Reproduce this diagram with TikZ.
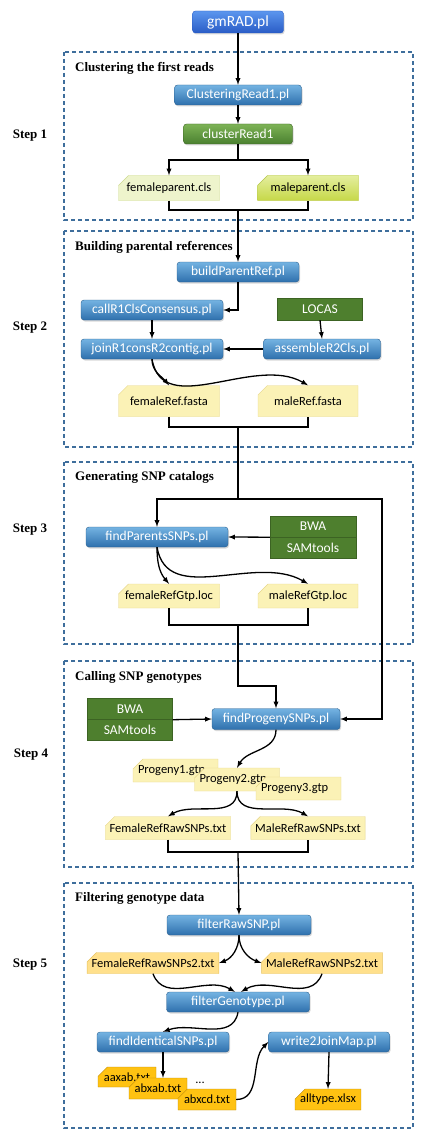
\documentclass[tikz,border=0pt]{standalone}
\usepackage{fontspec}
\setmainfont{Liberation Serif}
\newfontfamily\carlito{Carlito}
\usetikzlibrary{shapes.misc,shadows}

\definecolor{progtop}{HTML}{74B3E2}
\definecolor{progbot}{HTML}{2E70AD}
\definecolor{progline}{HTML}{2A5F8E}
\definecolor{maintop}{HTML}{5B96EE}
\definecolor{mainbot}{HTML}{2A5CC6}
\definecolor{greentop}{HTML}{7DB356}
\definecolor{greenbot}{HTML}{4A802F}
\definecolor{toolfill}{HTML}{4E7F2E}
\definecolor{toolline}{HTML}{3C6323}
\definecolor{framecol}{HTML}{3E6E9C}
\definecolor{palegreen}{HTML}{EEF4CC}
\definecolor{palegreenline}{HTML}{CCDA8E}
\definecolor{limetop}{HTML}{E4EE9E}
\definecolor{limebot}{HTML}{C6D848}
\definecolor{limeline}{HTML}{B3C64C}
\definecolor{paleyellow}{HTML}{FBF2B6}
\definecolor{paleyellowline}{HTML}{E6D68A}
\definecolor{warmyellow}{HTML}{FFE08C}
\definecolor{warmyellowline}{HTML}{E6C25E}
\definecolor{orangefile}{HTML}{FFC212}
\definecolor{orangeline}{HTML}{B8870A}

\begin{document}
\begin{tikzpicture}[x=1pt,y=1pt,>=latex]
	\tikzstyle{prog} = [rectangle,rounded corners=3pt,draw=progline,top color=progtop,bottom color=progbot,text=white,font=\carlito\fontsize{13.5}{16}\selectfont,minimum height=20pt,inner sep=0pt,drop shadow={opacity=0.3,shadow xshift=1pt,shadow yshift=-1.5pt}]
	\tikzstyle{tool} = [rectangle,draw=toolline,fill=toolfill,text=white,font=\carlito\fontsize{13.5}{16}\selectfont,minimum width=86pt,minimum height=21pt,inner sep=0pt]
	\tikzstyle{file} = [chamfered rectangle,chamfered rectangle corners=north west,chamfered rectangle xsep=5pt,chamfered rectangle ysep=5pt,draw=paleyellowline,fill=paleyellow,font=\carlito\fontsize{12.5}{15}\selectfont,inner sep=0pt,minimum height=23pt]
	\tikzstyle{frame} = [draw=framecol,line width=1.2pt,dash pattern=on 4pt off 3pt]
	\tikzstyle{title} = [font=\bfseries\fontsize{13}{15}\selectfont,anchor=west,inner sep=0pt]
	\tikzstyle{link} = [->,line width=1.3pt]
	
	\useasboundingbox (0,0) rectangle (432,-1142);
	
	\draw[frame] (64,-52) rectangle (413,-220);
	\draw[frame] (64,-231) rectangle (413,-447);
	\draw[frame] (64,-462) rectangle (413,-644);
	\draw[frame] (64,-661) rectangle (413,-867);
	\draw[frame] (64,-883) rectangle (413,-1128);
	
	\node[title] (h1) at (75,-68) {Clustering the first reads};
	\node[title] (h2) at (75,-247) {Building parental references};
	\node[title] (h3) at (75,-477) {Generating SNP catalogs};
	\node[title] (h4) at (75,-677) {Calling SNP genotypes};
	\node[title] (h5) at (75,-898) {Filtering genotype data};
	
	\node[title,anchor=center] (st1) at (30,-136) {Step 1};
	\node[title,anchor=center] (st2) at (30,-328) {Step 2};
	\node[title,anchor=center] (st3) at (30,-530) {Step 3};
	\node[title,anchor=center] (st4) at (31,-755) {Step 4};
	\node[title,anchor=center] (st5) at (30,-965) {Step 5};
	
	\node[prog,draw=mainbot,top color=maintop,bottom color=mainbot,minimum width=91pt,minimum height=22pt,font=\carlito\fontsize{15.5}{18}\selectfont] (gm) at (238,-22) {gmRAD.pl};
	
	\node[prog,minimum width=127pt] (cr) at (238,-95) {ClusteringRead1.pl};
	\node[prog,draw=toolline,top color=greentop,bottom color=greenbot,minimum width=109pt] (cl) at (238,-134) {clusterRead1};
	\node[file,draw=palegreenline,fill=palegreen,minimum width=101pt,minimum height=25pt] (fpc) at (169,-188) {femaleparent.cls};
	\node[file,draw=limeline,top color=limetop,bottom color=limebot,minimum width=101pt,minimum height=25pt] (mpc) at (308,-188) {maleparent.cls};
	
	\node[prog,minimum width=122pt] (bpr) at (238,-272) {buildParentRef.pl};
	\node[prog,minimum width=142pt] (crc) at (152,-310) {callR1ClsConsensus.pl};
	\node[tool,minimum width=85pt,minimum height=22pt] (loc) at (320,-309) {LOCAS};
	\node[prog,minimum width=142pt] (jrc) at (152,-349) {joinR1consR2contig.pl};
	\node[prog,minimum width=117pt] (asm) at (322,-349) {assembleR2Cls.pl};
	\node[file,minimum width=101pt,minimum height=31pt] (fra) at (169,-401) {femaleRef.fasta};
	\node[file,minimum width=100pt,minimum height=31pt] (mra) at (308,-401) {maleRef.fasta};
	
	\node[prog,minimum width=142pt] (fps) at (157,-537) {findParentsSNPs.pl};
	\node[tool] (bw1) at (313,-526.5) {BWA};
	\node[tool] (sm1) at (313,-547.5) {SAMtools};
	\node[file,minimum width=101pt,minimum height=24pt] (frg) at (169,-596) {femaleRefGtp.loc};
	\node[file,minimum width=100pt,minimum height=24pt] (mrg) at (308,-596) {maleRefGtp.loc};
	
	\node[prog,minimum width=128pt,minimum height=21pt] (fpg) at (276,-719) {findProgenySNPs.pl};
	\node[tool,minimum width=85pt] (bw2) at (130,-709) {BWA};
	\node[tool,minimum width=85pt] (sm2) at (130,-730) {SAMtools};
	\node[file,minimum width=81pt,text width=75pt,align=left] (pg1) at (175.5,-770.5) {Progeny1.gtp};
	\node[file,minimum width=81pt,text width=75pt,align=left] (pg2) at (237,-779.5) {Progeny2.gtp};
	\node[file,minimum width=81pt,text width=75pt,align=left] (pg3) at (298.5,-788.5) {Progeny3.gtp};
	\node[file,minimum width=115pt] (frr) at (168,-828) {FemaleRefRawSNPs.txt};
	\node[file,minimum width=109pt] (mrr) at (308,-828) {MaleRefRawSNPs.txt};
	
	\node[prog,minimum width=144pt] (frs) at (239,-925) {filterRawSNP.pl};
	\node[file,draw=warmyellowline,fill=warmyellow,minimum width=121pt,minimum height=21pt] (fr2) at (153,-963) {FemaleRefRawSNPs2.txt};
	\node[file,draw=warmyellowline,fill=warmyellow,minimum width=112pt,minimum height=21pt] (mr2) at (322,-963) {MaleRefRawSNPs2.txt};
	\node[prog,minimum width=143pt] (fgt) at (238,-1002) {filterGenotype.pl};
	\node[prog,minimum width=132pt] (fis) at (163,-1042) {findIdenticalSNPs.pl};
	\node[prog,minimum width=121pt] (wjm) at (329,-1042) {write2JoinMap.pl};
	\node[file,draw=orangeline,fill=orangefile,minimum width=58pt,minimum height=20pt] (aa) at (127,-1077) {aaxab.txt};
	\node[file,draw=orangeline,fill=orangefile,minimum width=58pt,minimum height=21pt] (ab) at (158,-1088.5) {abxab.txt};
	\node[font=\carlito\fontsize{12.5}{15}\selectfont,inner sep=0pt] (dt) at (200,-1083) {...};
	\node[file,draw=orangeline,fill=orangefile,minimum width=58pt,minimum height=21pt] (ac) at (207,-1099.5) {abxcd.txt};
	\node[file,draw=orangeline,fill=orangefile,minimum width=58pt,minimum height=21pt] (all) at (328,-1099.5) {alltype.xlsx};
	
	\coordinate (j0) at (238,-160);
	\coordinate (j1) at (238,-210);
	\coordinate (j2) at (238,-427);
	\coordinate (k3) at (238,-499);
	\coordinate (r3) at (382,-499);
	\coordinate (j3) at (238,-625);
	\coordinate (k4) at (238,-686);
	\coordinate (j4) at (238,-852);
	
	\draw[link] (gm.south) -- (cr.north);
	\draw[link] (cr.south) -- (cl.north);
	\draw[line width=1.3pt] (cl.south) -- (j0);
	\draw[link] (j0) -| (fpc.north);
	\draw[link] (j0) -| (mpc.north);
	\draw[line width=1.3pt] (fpc.south) |- (j1) -| (mpc.south);
	
	\draw[link] (j1) -- (bpr.north);
	\draw[link] (bpr.south) |- (crc.east);
	\draw[link] (crc.south) -- (jrc.north);
	\draw[link] (loc.south) -- (asm.north);
	\draw[link] (asm.west) -- (jrc.east);
	\draw[link] (jrc.south) to[out=-90,in=130] (fra.north);
	\draw[link] (jrc.south) to[out=-80,in=150] (mra.north);
	\draw[line width=1.3pt] (fra.south) |- (j2) -| (mra.south);
	
	\draw[line width=1.3pt] (j2) -- (k3);
	\draw[link] (k3) -| (fps.north);
	\draw[link] (k3) -- (r3) |- (fpg.east);
	\draw[link] (bw1.south west) -- (fps.east);
	\draw[link] (fps.south) to[out=-90,in=130] (frg.north);
	\draw[link] (fps.south) to[out=-80,in=150] (mrg.north);
	\draw[line width=1.3pt] (frg.south) |- (j3) -| (mrg.south);
	
	\draw[link] (j3) -- (k4) -| (fpg.north);
	\draw[link] (bw2.south east) -- (fpg.west);
	\draw[link] (fpg.south) to[out=-90,in=60] (pg2.north);
	\draw[link] (pg2.south) to[out=-90,in=30] (frr.north);
	\draw[link] (pg2.south) to[out=-90,in=150] (mrr.north);
	\draw[line width=1.3pt] (frr.south) |- (j4) -| (mrr.south);
	
	\draw[link] (j4) -- (frs.north);
	\draw[link] (frs.south) to[out=-90,in=20] (fr2.east);
	\draw[link] (frs.south) to[out=-90,in=160] (mr2.west);
	\draw[link] (fr2.south) to[out=-70,in=150] ([xshift=-3pt]fgt.north);
	\draw[link] (mr2.south) to[out=-110,in=30] ([xshift=3pt]fgt.north);
	\draw[link] (fgt.south) to[out=-100,in=20] (fis.north);
	\draw[link] (fis.south) -- (fis.south |- ab.north);
	\draw[link] (ac.east) to[out=0,in=225] (wjm.west);
	\draw[link] (wjm.south) -- (all.north);
	
\end{tikzpicture}
\end{document}
